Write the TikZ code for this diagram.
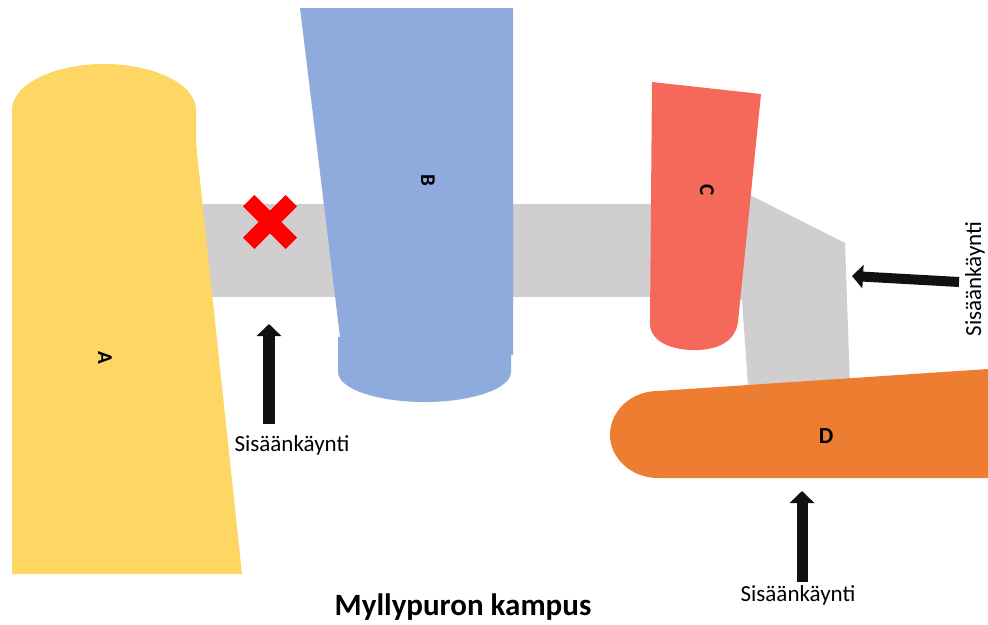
\documentclass[tikz,border=0pt]{standalone}
\usepackage{fontspec}
\setmainfont{Carlito}
\usetikzlibrary{arrows.meta}
\definecolor{cA}{HTML}{FDD663}
\definecolor{cB}{HTML}{8FAADC}
\definecolor{cC}{HTML}{F5695A}
\definecolor{cD}{HTML}{ED7D31}
\definecolor{cG}{HTML}{D0CECE}
\definecolor{cX}{HTML}{FF0000}
\definecolor{cK}{HTML}{111111}
\begin{document}
\begin{tikzpicture}[x=1pt,y=-1pt,
  blockarrow/.style={draw=cK, line width=11pt, -{Triangle[width=24pt,length=12pt]}},
  entrylbl/.style={font=\fontsize{23}{27}\selectfont, inner sep=0pt, anchor=base},
  bldlbl/.style={font=\bfseries\fontsize{21}{24}\selectfont, inner sep=0pt},
  crossbar/.style={draw=cX, line width=16pt}
]
\useasboundingbox (0,0) rectangle (988,624);
\fill[white] (0,0) rectangle (988,624);

% corridors
\fill[cG] (190,204) rectangle (670,297);
\fill[cG] (700,195) -- (750,195) -- (845,243) -- (850,385) -- (748,385) -- (742,300) -- (700,300) -- cycle;

% building A
\fill[cA] (12,574) -- (12,110) .. controls (12,84.6) and (53.2,64) .. (104,64)
  .. controls (154.8,64) and (196,84.6) .. (196,110) -- (196,143) -- (242,574) -- cycle;

% building B
\fill[cB] (300,8) -- (513,8) -- (513,355) -- (511,355) -- (511,372)
  .. controls (511,388.6) and (472.3,402) .. (424.5,402)
  .. controls (376.7,402) and (338,388.6) .. (338,372) -- (338,337) -- (340,337) -- cycle;

% building C
\fill[cC] (652,82) -- (761,94) -- (738,322)
  .. controls (735,344) and (713,351) .. (691,350)
  .. controls (668,349) and (648,340) .. (650,320) -- cycle;

% building D
\fill[cD] (988,369) -- (988,478) -- (658,478)
  .. controls (631,478) and (610,458) .. (610,435)
  .. controls (610,411) and (631,391) .. (658,391) -- cycle;

% red cross
\coordinate (x1) at (248.7,200.7);
\coordinate (x2) at (291.3,243.3);
\coordinate (x3) at (248.7,243.3);
\coordinate (x4) at (291.3,200.7);
\draw[crossbar] (x1) -- (x2);
\draw[crossbar] (x3) -- (x4);

% building labels
\node[bldlbl, rotate=-90] (la) at (105,358) {A};
\node[bldlbl, rotate=-90] (lb) at (428,180) {B};
\node[bldlbl, rotate=-90] (lc) at (707,190) {C};
\node[bldlbl, font=\bfseries\fontsize{23}{26}\selectfont] (ld) at (826,436) {D};

% entrances
\node[entrylbl] (e1) at (292,451) {Sisäänkäynti};
\node[entrylbl] (e3) at (798,601) {Sisäänkäynti};
\node[entrylbl, rotate=90] (e2) at (981,279) {Sisäänkäynti};

\coordinate (a1s) at (269,424);
\coordinate (a1e) at (269,324);
\coordinate (a2s) at (959,282);
\coordinate (a2e) at (852,276);
\coordinate (a3s) at (802,582);
\coordinate (a3e) at (802,491);
\draw[blockarrow, line width=12pt] (a1s) -- (a1e);
\draw[blockarrow, line width=10pt, -{Triangle[width=23pt,length=11pt]}] (a2s) -- (a2e);
\draw[blockarrow] (a3s) -- (a3e);

% title
\node[font=\bfseries\fontsize{31}{36}\selectfont, inner sep=0pt, anchor=base] (title) at (463,615) {Myllypuron kampus};
\end{tikzpicture}
\end{document}
